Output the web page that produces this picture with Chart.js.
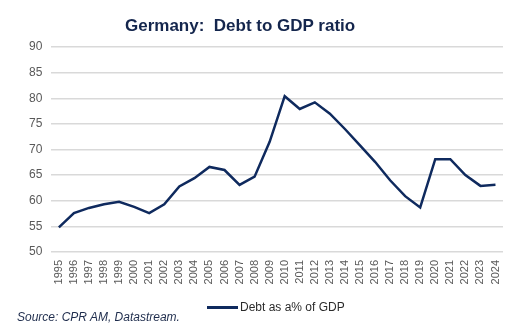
<!DOCTYPE html>
<html>
<head>
<meta charset="utf-8">
<script src="https://cdn.jsdelivr.net/npm/chart.js@4/dist/chart.umd.min.js"></script>
<style>
  html, body { margin: 0; padding: 0; background: #fff; }
  #wrap { position: relative; width: 526px; height: 335px; }
  #title {
    position: absolute; left: 125px; top: 16px;
    font: bold 17px "Liberation Sans", Arial, sans-serif; color: #14264d;
    white-space: pre;
  }
  #legend {
    position: absolute; left: 207px; top: 300px;
    font: 12px "Liberation Sans", Arial, sans-serif; color: #2b2b2b;
    display: flex; align-items: center; white-space: nowrap;
  }
  #legend .swatch {
    display: inline-block; width: 31px; height: 3px; background: #0f2a5e; margin-right: 2px;
  }
  #source {
    position: absolute; left: 17px; top: 310px;
    font: italic 12px "Liberation Sans", Arial, sans-serif; color: #1f2d4d;
  }
</style>
</head>
<body>
<div id="wrap">
  <canvas id="debtChart" width="526" height="335"></canvas>
  <div id="title">Germany:  Debt to GDP ratio</div>
  <div id="legend"><span class="swatch"></span><span id="legendText"></span></div>
  <div id="source">Source: CPR AM, Datastream.</div>
</div>
<script>
// Years and debt/GDP values (%)
const years = ['1995','1996','1997','1998','1999','2000','2001','2002','2003','2004',
               '2005','2006','2007','2008','2009','2010','2011','2012','2013','2014',
               '2015','2016','2017','2018','2019','2020','2021','2022','2023','2024'];
const debtRatio = [54.8, 57.6, 58.6, 59.3, 59.8, 58.8, 57.6, 59.3, 62.8, 64.4,
                   66.6, 66.0, 63.1, 64.7, 71.5, 80.4, 77.9, 79.2, 77.0, 74.0,
                   70.8, 67.6, 64.0, 60.9, 58.7, 68.1, 68.1, 65.0, 62.9, 63.1];
const yTicks = [50, 55, 60, 65, 70, 75, 80, 85, 90];
const seriesName = 'Debt as a% of GDP';

document.getElementById('legendText').textContent = seriesName;

const ctx = document.getElementById('debtChart').getContext('2d');
new Chart(ctx, {
    type: 'line',
    data: {
        labels: years,
        datasets: [{
            label: seriesName,
            data: debtRatio,
            borderColor: '#0f2a5e',
            backgroundColor: '#0f2a5e',
            borderWidth: 2.5,
            pointRadius: 0,
            tension: 0,
            fill: false
        }]
    },
    options: {
        responsive: false,
        animation: false,
        layout: { padding: { left: 20, right: 23, top: 47, bottom: 49 } },
        plugins: {
            title: { display: false },
            legend: { display: false },
            tooltip: { enabled: false }
        },
        scales: {
            x: {
                offset: true,
                grid: { display: false },
                border: { display: false },
                ticks: {
                    color: '#595959',
                    font: { family: 'Liberation Sans', size: 11 },
                    maxRotation: 90,
                    minRotation: 90,
                    autoSkip: false,
                    padding: 0
                },
                afterFit: axis => { axis.height = 34; }
            },
            y: {
                min: 50,
                max: 90,
                afterBuildTicks: axis => { axis.ticks = yTicks.map(v => ({ value: v })); },
                grid: { color: '#d9d9d9', lineWidth: 1.5, drawTicks: false },
                border: { display: false },
                ticks: {
                    color: '#595959',
                    font: { family: 'Liberation Sans', size: 12 },
                    padding: 9
                }
            }
        }
    }
});
</script>
</body>
</html>
